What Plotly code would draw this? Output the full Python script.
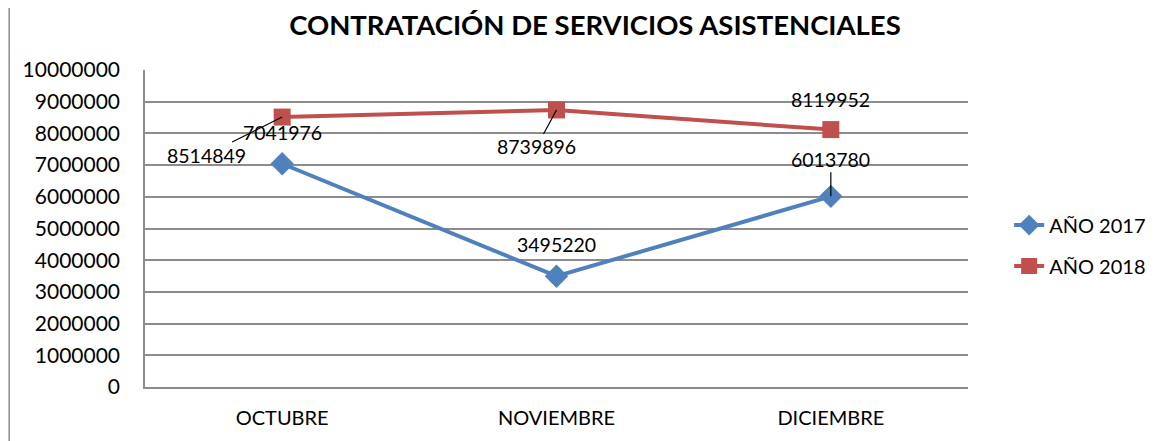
import plotly.graph_objects as go

categories = ["OCTUBRE", "NOVIEMBRE", "DICIEMBRE"]
series_names = ["AÑO 2017", "AÑO 2018"]
values_2017 = [7041976, 3495220, 6013780]
values_2018 = [8514849, 8739896, 8119952]
y_ticks = [0, 1000000, 2000000, 3000000, 4000000, 5000000, 6000000, 7000000, 8000000, 9000000, 10000000]

FONT = "Lato"
blue = "#4F81BD"
red = "#C0504D"
grid = "#8C8C8C"

fig = go.Figure()
fig.add_trace(go.Scatter(
    x=categories, y=values_2017, name=series_names[0], mode="lines+markers",
    line=dict(color=blue, width=4), marker=dict(symbol="diamond", size=18, color=blue),
    legendgroup="a"))
fig.add_trace(go.Scatter(
    x=categories, y=values_2018, name=series_names[1], mode="lines+markers",
    line=dict(color=red, width=4), marker=dict(symbol="square", size=17, color=red),
    legendgroup="b"))

# data label placements (pixel offsets, arrow flags)
label_2017 = [(0, -31, False), (0, -32, False), (0, -37, True)]
label_2018 = [(-76, 38, True), (-20, 37, True), (0, -30, False)]

for vals, offs in ((values_2017, label_2017), (values_2018, label_2018)):
    for c, v, (ax, ay, arr) in zip(categories, vals, offs):
        fig.add_annotation(
            x=c, y=v, text=str(v), ax=ax, ay=ay, showarrow=True,
            arrowhead=0, arrowwidth=1.2,
            arrowcolor="black" if arr else "rgba(0,0,0,0)",
            font=dict(family=FONT, size=19.5, color="black"))

fig.add_shape(type="line", xref="paper", yref="paper", x0=-0.165, x1=-0.165, y0=-0.3, y1=1.3,
              line=dict(color="#8C8C8C", width=1.5))

fig.update_layout(
    width=1163, height=433,
    margin=dict(l=137, r=203, t=62, b=52),
    paper_bgcolor="white", plot_bgcolor="white",
    title=dict(text="<b>CONTRATACIÓN DE SERVICIOS ASISTENCIALES</b>", x=0.5047, xanchor="center",
               y=0.959, yanchor="middle", font=dict(family=FONT, size=27.5, color="black")),
    font=dict(family=FONT, size=19, color="black"),
    showlegend=True,
    legend=dict(x=1.05, y=0.446, xanchor="left", yanchor="middle", tracegroupgap=12,
                font=dict(family=FONT, size=20, color="black"), bgcolor="rgba(0,0,0,0)"),
    xaxis=dict(range=[-0.5, 2.5], showgrid=False, showline=True, linecolor=grid, linewidth=1.5,
               ticks="", ticklabelstandoff=12, tickfont=dict(family=FONT, size=20)),
    yaxis=dict(range=[0, 10000000], tickvals=y_ticks, ticktext=[str(t) for t in y_ticks],
               showgrid=True, gridcolor=grid, gridwidth=1.5, showline=True, linecolor=grid,
               linewidth=1.5, zeroline=False, ticks="", ticklabelstandoff=19,
               tickfont=dict(family=FONT, size=21)),
)

fig.write_html("out.html")
